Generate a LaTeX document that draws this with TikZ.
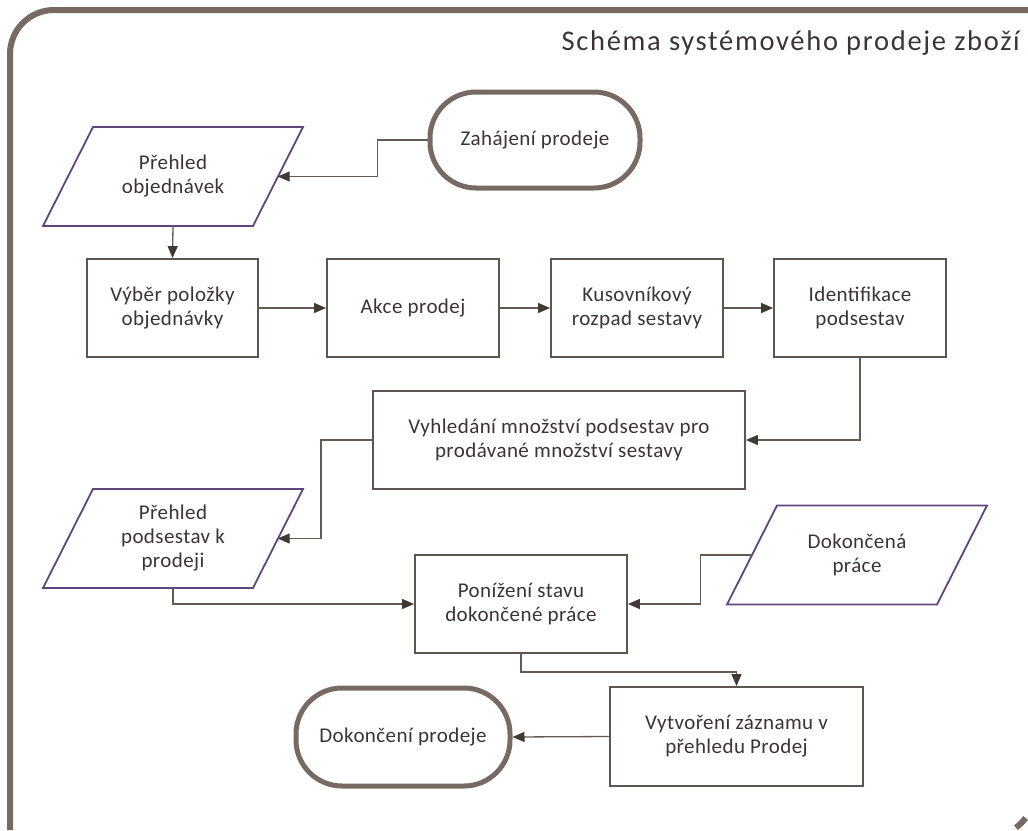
\documentclass[tikz,border=0pt]{standalone}
\usepackage{fontspec}
\setmainfont{Carlito}[LetterSpace=2]
\newfontfamily\titlefont{Carlito}[LetterSpace=6]
\usetikzlibrary{arrows.meta,calc}
\definecolor{framec}{HTML}{766A62}
\definecolor{boxc}{HTML}{5E5652}
\definecolor{linec}{HTML}{625A55}
\definecolor{arrc}{HTML}{403A36}
\definecolor{parac}{HTML}{5F467D}
\definecolor{txt}{HTML}{3C3434}
\newcommand\drawpara[1]{%
  \draw[para] ($(#1.center)+(-80,-49.5)$) -- ($(#1.center)+(130,-49.5)$) --
    ($(#1.center)+(80,49.5)$) -- ($(#1.center)+(-130,49.5)$) -- cycle;}
\begin{document}
\begin{tikzpicture}[x=1pt,y=-1pt,
  lbl/.style={text=txt, align=center, font=\fontsize{21}{24}\selectfont, inner sep=0pt},
  box/.style={lbl, draw=boxc, line width=1.8pt, fill=white, minimum height=98pt},
  term/.style={lbl, draw=framec, line width=5pt, fill=white, rounded corners=46pt, minimum height=96pt},
  pnode/.style={lbl, minimum width=209pt, minimum height=99pt},
  para/.style={draw=parac, line width=1.8pt},
  conn/.style={draw=linec, line width=1.3pt, -{Triangle[length=12pt,width=10pt,color=arrc]}},
  frame/.style={draw=framec, line width=6pt}]
\useasboundingbox (0,0) rectangle (1028,830);
\begin{scope}
  \clip (0,0) rectangle (1028,830);
  \draw[frame, rounded corners=44pt] (10,830) -- (10,10) -- (1028,10);
  \draw[frame] (1025.6,817.9) arc[start angle=36, end angle=54, radius=44];
\end{scope}
\node[anchor=base east, text=txt, font=\titlefont\fontsize{28.5}{32}\selectfont, inner sep=0pt] (title) at (1020,50) {Schéma systémového prodeje zboží};

\node[term, minimum width=210pt] (zah) at (535,140) {Zahájení prodeje};
\node[pnode] (po) at (173,176.5) {Přehled\\objednávek};
\drawpara{po}
\node[box, minimum width=171pt] (vyb) at (172.5,308) {Výběr položky\\objednávky};
\node[box, minimum width=172pt] (akce) at (413,308) {Akce prodej};
\node[box, minimum width=172pt] (kus) at (637,308) {Kusovníkový\\rozpad sestavy};
\node[box, minimum width=172pt] (ident) at (860,308) {Identifikace\\podsestav};
\node[box, minimum width=372pt] (vyh) at (559,440) {Vyhledání množství podsestav pro\\prodávané množství sestavy};
\node[pnode] (pp) at (173,538.5) {Přehled\\podsestav k\\prodeji};
\drawpara{pp}
\node[box, minimum width=212pt] (pon) at (521,604) {Ponížení stavu\\dokončené práce};
\node[pnode] (dok) at (857,555) {Dokončená\\práce};
\drawpara{dok}
\node[box, minimum width=253pt, minimum height=99pt] (vyt) at (736.5,736.5) {Vytvoření záznamu v\\přehledu Prodej};
\node[term, minimum width=214pt, minimum height=98pt] (dkp) at (403,737) {Dokončení prodeje};

\draw[conn] (zah.west) -- ++(-50,0) |- (po.east);
\draw[conn] (po.south) -- (vyb.north);
\draw[conn] (vyb.east) -- (akce.west);
\draw[conn] (akce.east) -- (kus.west);
\draw[conn] (kus.east) -- (ident.west);
\draw[conn] (ident.south) |- (vyh.east);
\draw[conn] (vyh.west) -- ++(-51,0) |- (pp.east);
\draw[conn] (pp.south) |- (pon.west);
\draw[conn] (dok.west) -- ++(-52,0) |- (pon.east);
\draw[conn] (pon.south) -- ++(0,18) -| (vyt.north);
\draw[conn] (vyt.west) -- (dkp.east);
\end{tikzpicture}
\end{document}
